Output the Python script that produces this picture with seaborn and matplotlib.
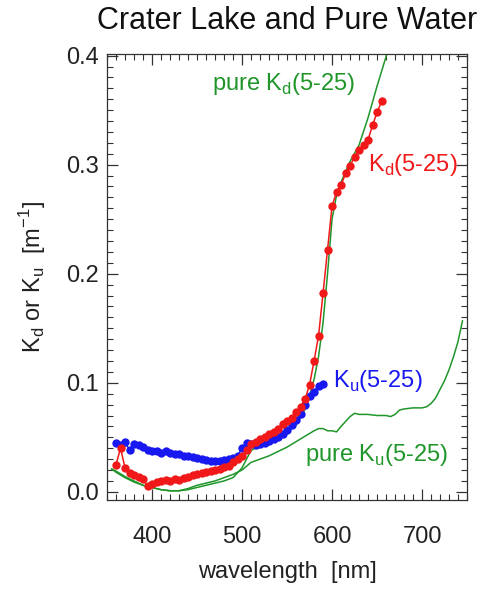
import numpy as np
import pandas as pd
import matplotlib
matplotlib.use("Agg")
import matplotlib.pyplot as plt
from matplotlib.ticker import MultipleLocator
import seaborn as sns

# --- dados ---
wl_kd = [360, 365, 370, 375, 380, 385, 390, 395, 400, 405, 410, 415, 420, 425, 430,
         435, 440, 445, 450, 455, 460, 465, 470, 475, 480, 485, 490, 495, 500, 505,
         510, 515, 520, 525, 530, 535, 540, 545, 550, 555, 560, 565, 570, 575, 580,
         585, 590, 595, 600, 605, 610, 615, 620, 625, 630, 635, 640, 645, 650, 655]
kd = [0.025, 0.040, 0.022, 0.017, 0.015, 0.014, 0.012, 0.005, 0.007, 0.009, 0.010,
      0.011, 0.010, 0.012, 0.011, 0.013, 0.014, 0.015, 0.016, 0.017, 0.018, 0.019,
      0.020, 0.021, 0.023, 0.024, 0.027, 0.030, 0.033, 0.038, 0.044, 0.046, 0.048,
      0.050, 0.053, 0.055, 0.058, 0.062, 0.065, 0.068, 0.073, 0.078, 0.085, 0.098,
      0.120, 0.143, 0.182, 0.222, 0.262, 0.275, 0.281, 0.292, 0.299, 0.307, 0.313,
      0.318, 0.323, 0.336, 0.348, 0.358]

wl_ku = [360, 365, 370, 375, 380, 385, 390, 395, 400, 405, 410, 415, 420, 425, 430,
         435, 440, 445, 450, 455, 460, 465, 470, 475, 480, 485, 490, 495, 500, 505,
         510, 515, 520, 525, 530, 535, 540, 545, 550, 555, 560, 565, 570, 575, 580,
         585, 590]
ku = [0.045, 0.043, 0.046, 0.038, 0.044, 0.043, 0.041, 0.038, 0.037, 0.037, 0.036,
      0.037, 0.036, 0.035, 0.035, 0.033, 0.033, 0.032, 0.031, 0.030, 0.029, 0.028,
      0.028, 0.028, 0.029, 0.030, 0.031, 0.033, 0.040, 0.045, 0.044, 0.043, 0.044,
      0.045, 0.047, 0.048, 0.050, 0.053, 0.057, 0.061, 0.066, 0.071, 0.080, 0.088,
      0.092, 0.097, 0.099]

wl_pure_kd = [355, 360, 370, 380, 390, 400, 410, 420, 430, 440, 450, 460, 470, 480,
              490, 500, 505, 510, 520, 530, 540, 550, 560, 565, 570, 575, 580, 585,
              590, 595, 600, 605, 610, 620, 630, 640, 650, 660, 670]
pure_kd = [0.021, 0.018, 0.013, 0.009, 0.006, 0.004, 0.002, 0.001, 0.001, 0.002,
           0.004, 0.006, 0.008, 0.010, 0.013, 0.022, 0.030, 0.038, 0.042, 0.046,
           0.050, 0.055, 0.061, 0.068, 0.076, 0.088, 0.103, 0.124, 0.155, 0.200,
           0.250, 0.272, 0.284, 0.303, 0.318, 0.343, 0.372, 0.399, 0.430]

wl_pure_ku = [355, 360, 370, 380, 390, 400, 410, 420, 430, 440, 450, 460, 470, 480,
              490, 500, 510, 520, 530, 540, 550, 560, 570, 580, 585, 590, 595, 600,
              605, 610, 620, 625, 630, 640, 650, 660, 665, 670, 675, 680, 690, 700,
              705, 710, 715, 720, 725, 730, 735, 740, 745]
pure_ku = [0.021, 0.019, 0.014, 0.010, 0.006, 0.004, 0.002, 0.001, 0.001, 0.003,
           0.006, 0.008, 0.010, 0.013, 0.016, 0.020, 0.027, 0.030, 0.033, 0.037,
           0.041, 0.046, 0.051, 0.056, 0.058, 0.058, 0.056, 0.056, 0.055, 0.060,
           0.069, 0.072, 0.071, 0.071, 0.070, 0.070, 0.069, 0.071, 0.075, 0.076,
           0.077, 0.077, 0.078, 0.081, 0.086, 0.094, 0.102, 0.112, 0.124, 0.138,
           0.157]

red = "#f01818"
blue = "#1818f0"
green = "#20962a"

sns.set_theme(style="ticks")
plt.rcParams['font.family'] = ['Liberation Sans', 'DejaVu Sans']
plt.rcParams['mathtext.fontset'] = 'custom'
plt.rcParams['mathtext.rm'] = 'Liberation Sans'

fig = plt.figure(figsize=(4.81, 5.90), dpi=100)
ax = fig.add_axes([0.2225, 0.1525, 0.7485, 0.756])

df_pkd = pd.DataFrame({"wl": wl_pure_kd, "k": pure_kd})
df_pku = pd.DataFrame({"wl": wl_pure_ku, "k": pure_ku})
df_kd = pd.DataFrame({"wl": wl_kd, "k": kd})
df_ku = pd.DataFrame({"wl": wl_ku, "k": ku})

sns.lineplot(data=df_pkd, x="wl", y="k", color=green, linewidth=1.1, ax=ax)
sns.lineplot(data=df_pku, x="wl", y="k", color=green, linewidth=1.1, ax=ax)
sns.lineplot(data=df_ku, x="wl", y="k", color=blue, linewidth=1.1, marker="o",
             markersize=6, markeredgewidth=0, ax=ax)
sns.lineplot(data=df_kd, x="wl", y="k", color=red, linewidth=1.1, marker="o",
             markersize=6, markeredgewidth=0, ax=ax)

ax.set_xlim(350, 750)
ax.set_ylim(-0.0075, 0.4015)
ax.set_xticks([400, 500, 600, 700])
ax.set_yticks([0.0, 0.1, 0.2, 0.3, 0.4])
ax.set_yticklabels(["0.0", "0.1", "0.2", "0.3", "0.4"])
ax.xaxis.set_minor_locator(MultipleLocator(10))
ax.yaxis.set_minor_locator(MultipleLocator(0.01))
ax.tick_params(which='both', direction='in', top=True, right=True, color='#333333')
ax.tick_params(which='major', length=8, width=0.9)
ax.tick_params(which='minor', length=4, width=0.8)
ax.tick_params(axis='x', labelsize=17, pad=19, labelcolor='#222222')
ax.tick_params(axis='y', labelsize=17, pad=6, labelcolor='#222222')
for s in ax.spines.values():
    s.set_color('#333333')
    s.set_linewidth(0.9)

ax.set_title("Crater Lake and Pure Water", fontsize=22, pad=18, color='#111111')
ax.set_xlabel("wavelength  [nm]", fontsize=17, labelpad=9, color='#222222')
ax.set_ylabel(r"K$_\mathregular{d}$ or K$_\mathregular{u}$  [m$^\mathregular{-1}$]",
              fontsize=17, labelpad=13, color='#222222')

ax.text(467, 0.374, r"pure K$_\mathregular{d}$(5-25)", color=green, fontsize=17,
        va='center', ha='left')
ax.text(640, 0.300, r"K$_\mathregular{d}$(5-25)", color=red, fontsize=17,
        va='center', ha='left')
ax.text(601, 0.102, r"K$_\mathregular{u}$(5-25)", color=blue, fontsize=17,
        va='center', ha='left')
ax.text(570, 0.034, r"pure K$_\mathregular{u}$(5-25)", color=green, fontsize=17,
        va='center', ha='left')

fig.savefig("out.png", dpi=100)
